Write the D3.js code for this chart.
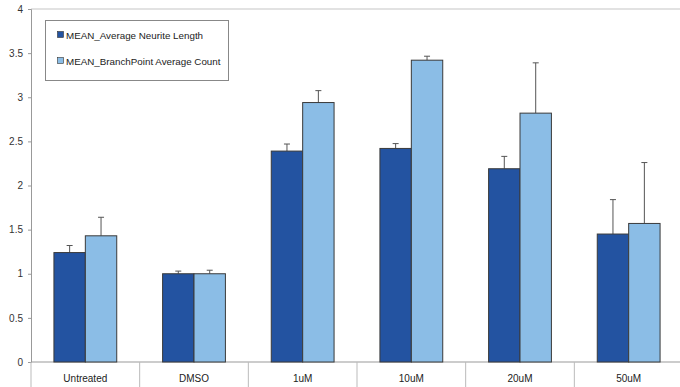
<!DOCTYPE html>
<html><head><meta charset="utf-8">
<script src="https://cdn.jsdelivr.net/npm/d3@7/dist/d3.min.js"></script>
<style>body{margin:0;background:#fff}svg{display:block;font-family:"Liberation Sans",Arial,sans-serif}</style>
</head><body><svg id="c" width="680" height="387"></svg>
<script>
const categories = ["Untreated","DMSO","1uM","10uM","20uM","50uM"];
const seriesNames = ["MEAN_Average Neurite Length","MEAN_BranchPoint Average Count"];
const neuriteLength = [1.24,1.0,2.39,2.42,2.19,1.45];
const neuriteErr = [0.08,0.03,0.08,0.055,0.14,0.39];
const branchCount = [1.43,1.0,2.94,3.42,2.82,1.57];
const branchErr = [0.21,0.04,0.135,0.045,0.57,0.69];
const yTicks = [0,0.5,1,1.5,2,2.5,3,3.5,4];
const colors = ["#2353a1","#8bbde6"];

const svg = d3.select("#c");
const mLeft = 31, mRight = 683, mTop = 9, mBottom = 362;
const x = d3.scaleBand().domain(categories).range([mLeft,mRight]).paddingInner(0).paddingOuter(0);
const inner = d3.scaleBand().domain([0,1]).range([0,x.bandwidth()]).paddingInner(0).paddingOuter(0.73);
const y = d3.scaleLinear().domain([0,4]).range([mBottom,mTop]);

// top gridline
svg.append("line").attr("x1",mLeft).attr("x2",mRight).attr("y1",y(4)).attr("y2",y(4)).attr("stroke","#d9d9d9").attr("stroke-width",1.5);

// y axis
const ya = svg.append("g").attr("transform",`translate(${mLeft},0)`)
  .call(d3.axisLeft(y).tickValues(yTicks).tickSize(3).tickPadding(5).tickFormat(d=>String(d)));
ya.selectAll("path,line").attr("stroke","#999");
ya.selectAll("text").attr("fill","#333").attr("font-size","10px").attr("font-family","Liberation Sans, Arial, sans-serif");

// x axis
const xa = svg.append("g").attr("transform",`translate(0,${mBottom})`);
xa.append("line").attr("x1",mLeft).attr("x2",mRight).attr("stroke","#999");
const seps = categories.map(c=>x(c)).concat([mRight]);
xa.selectAll("line.sep").data(seps).enter().append("line").attr("class","sep")
  .attr("x1",d=>d).attr("x2",d=>d).attr("y1",0).attr("y2",25).attr("stroke","#bbb");
xa.selectAll("text").data(categories).enter().append("text")
  .attr("x",d=>x(d)+x.bandwidth()/2).attr("y",20).attr("text-anchor","middle")
  .attr("font-size","10px").attr("fill","#222").text(d=>d);

const series = [
  {vals:neuriteLength, err:neuriteErr},
  {vals:branchCount, err:branchErr}
];
series.forEach((s,si)=>{
  const g = svg.append("g");
  categories.forEach((c,i)=>{
    const bx = x(c)+inner(si);
    const bw = inner.bandwidth();
    const cx = bx + bw/2;
    g.append("line").attr("x1",cx).attr("x2",cx).attr("y1",y(s.vals[i])).attr("y2",y(s.vals[i]+s.err[i])).attr("stroke","#555").attr("stroke-width",1);
    g.append("line").attr("x1",cx-3).attr("x2",cx+3).attr("y1",y(s.vals[i]+s.err[i])).attr("y2",y(s.vals[i]+s.err[i])).attr("stroke","#555").attr("stroke-width",1);
    g.append("rect").attr("x",bx).attr("y",y(s.vals[i])).attr("width",bw).attr("height",y(0)-y(s.vals[i]))
      .attr("fill",colors[si]).attr("stroke","#3a3a3a").attr("stroke-width",1);
  });
});

// legend
const lg = svg.append("g");
lg.append("rect").attr("x",45.5).attr("y",20.5).attr("width",183).attr("height",60).attr("fill","#fff").attr("stroke","#888");
seriesNames.forEach((n,i)=>{
  const yy = 35 + i*26;
  lg.append("rect").attr("x",57.5).attr("y",yy-3.5).attr("width",6).attr("height",6).attr("fill",colors[i]).attr("stroke","#333").attr("stroke-width",0.6);
  lg.append("text").attr("x",66).attr("y",yy+3.5).attr("font-size","9.8px").attr("fill","#222").text(n);
});
</script></body></html>
